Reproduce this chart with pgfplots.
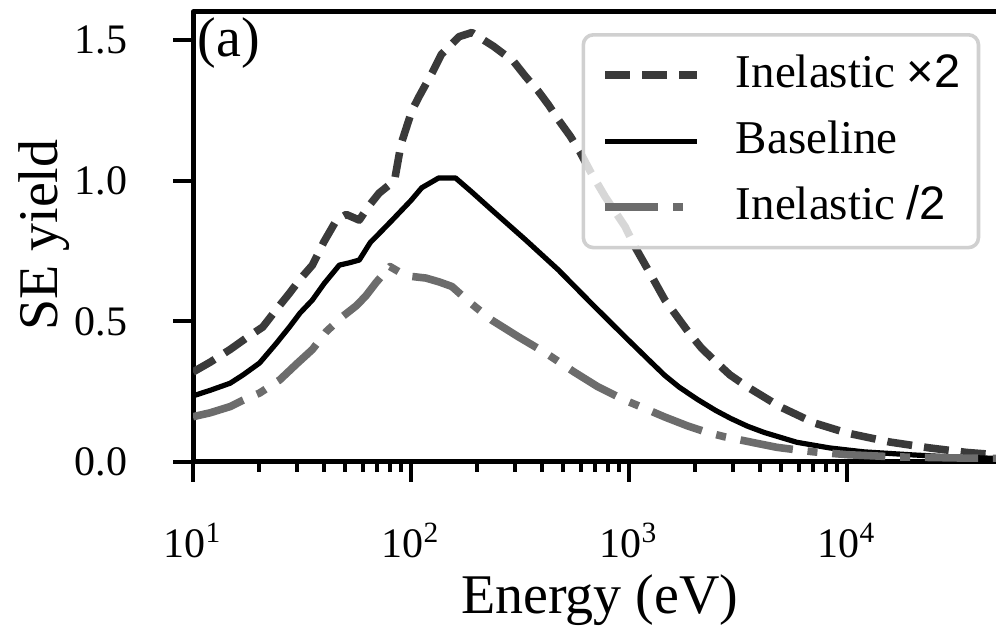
\documentclass[border=0pt]{standalone}
\usepackage{fontspec}
\setmainfont{Liberation Serif}
\newfontfamily\sansx{Liberation Sans}
\usepackage{pgfplots}
\pgfplotsset{compat=1.18}
\definecolor{dashc}{RGB}{58,58,58}
\definecolor{dotc}{RGB}{108,108,108}
\definecolor{legc}{RGB}{208,208,208}
\begin{document}
\begin{tikzpicture}
\begin{semilogxaxis}[
  at={(0,0)}, anchor=south west,
  scale only axis, width=202.52pt, height=112.5pt,
  xmin=10, xmax=52000, ymin=0, ymax=1.6,
  tick align=outside, tick pos=left,
  major tick length=5pt, minor tick length=2.5pt,
  every tick/.style={black, line width=1pt},
  axis line style={line width=1.25pt},
  xtick={10,100,1000,10000},
  xticklabels={10\textsuperscript{1},10\textsuperscript{2},10\textsuperscript{3},10\textsuperscript{4}},
  ytick={0,0.5,1,1.5},
  yticklabels={0.0,0.5,1.0,1.5},
  xticklabel style={font=\fontsize{10.5}{12}\selectfont, anchor=base, inner sep=0pt, yshift=-19pt},
  yticklabel style={font=\fontsize{10.5}{12}\selectfont, anchor=east, inner sep=0pt, xshift=-11.25pt},
  xlabel={Energy (eV)},
  ylabel={SE yield},
  every axis x label/.style={at={(axis description cs:0.502,-0.3356)}, anchor=base, inner sep=0pt, font=\fontsize{14}{16}\selectfont},
  every axis y label/.style={at={(axis description cs:-0.1519,0.504)}, rotate=90, anchor=south, inner sep=0pt, font=\fontsize{14}{16}\selectfont},
  legend style={at={(axis description cs:0.9718,0.9533)}, anchor=north east,
    draw=legc, line width=0.9pt, rounded corners=2.5pt,
    fill=white, fill opacity=0.8, draw opacity=1, text opacity=1,
    font=\fontsize{11.75}{14}\selectfont,
    inner xsep=4.5pt, inner ysep=4.6pt, row sep=5.5pt,
    nodes={inner sep=0pt, text height=8.5pt, text depth=2.5pt},
    /tikz/every odd column/.append style={column sep=8.75pt}},
  legend cell align=left,
  legend image code/.code={\draw[#1] (0pt,0pt) -- (23pt,0pt);},
  line join=round,
]
\addplot[dashc, line width=1.9pt, dash pattern=on 6.25pt off 3pt] coordinates {
(10,0.32) (12,0.355) (14.8,0.40) (17.5,0.44) (20.9,0.48) (24,0.54) (27.7,0.60) (31,0.65) (35.3,0.70) (40,0.785) (45.5,0.86) (50.5,0.88) (57.9,0.86) (64,0.91) (71.4,0.956) (78,0.98) (84,1.0) (90,1.13) (101,1.25) (109,1.30) (125,1.384) (138,1.45) (166,1.512) (190,1.527) (239,1.478) (295,1.425) (335,1.371) (384,1.318) (427,1.27) (474,1.217) (538,1.158) (598,1.10) (670,1.028) (776,0.944) (959,0.837) (1065,0.765) (1250,0.67) (1458,0.577) (1860,0.465) (2150,0.405) (2470,0.36) (2900,0.31) (3490,0.267) (4940,0.196) (7060,0.139) (10000,0.103) (15700,0.071) (23900,0.05) (35300,0.034) (52000,0.024)
};
\addlegendentry{Inelastic {\sansx ×2}}
\addplot[black, line width=1.3pt] coordinates {
(10,0.235) (12,0.255) (14.8,0.28) (17,0.31) (20.2,0.352) (24,0.42) (27.7,0.48) (31,0.53) (35.3,0.576) (40,0.635) (46.9,0.70) (52,0.708) (57.9,0.718) (65,0.78) (72,0.815) (82,0.86) (100,0.93) (112,0.975) (134,1.01) (160,1.01) (190,0.96) (234,0.897) (335,0.79) (474,0.683) (670,0.565) (959,0.445) (1100,0.40) (1250,0.358) (1458,0.308) (1700,0.266) (2065,0.222) (2500,0.183) (2925,0.155) (3500,0.127) (4170,0.105) (5890,0.07) (8320,0.05) (11960,0.036) (20200,0.025) (30000,0.018) (52000,0.012)
};
\addlegendentry{Baseline}
\addplot[dotc, line width=1.9pt, dash pattern=on 13.3pt off 3.7pt on 2.5pt off 3.7pt] coordinates {
(10,0.161) (12,0.175) (14.8,0.197) (17,0.22) (20.2,0.245) (25,0.292) (30,0.35) (35.3,0.40) (40.9,0.464) (48.5,0.517) (56,0.555) (62,0.59) (69,0.637) (80,0.695) (90,0.672) (100,0.66) (117,0.654) (135,0.64) (154,0.624) (187,0.566) (234,0.505) (311,0.445) (414,0.388) (560,0.32) (721,0.267) (956,0.22) (1135,0.196) (1458,0.16) (1860,0.128) (2290,0.105) (2730,0.09) (3770,0.068) (4780,0.052) (5890,0.043) (7060,0.036) (10000,0.026) (17000,0.018) (34000,0.014) (52000,0.012)
};
\addlegendentry{Inelastic {\sansx /2}}
\node[anchor=north west, inner sep=0pt, font=\fontsize{14}{16}\selectfont] at (rel axis cs:0.005,0.99) {(a)};
\end{semilogxaxis}
\pgfresetboundingbox
\useasboundingbox (-48.25pt,-41.5pt) rectangle (200.75pt,115.5pt);
\end{tikzpicture}
\end{document}
